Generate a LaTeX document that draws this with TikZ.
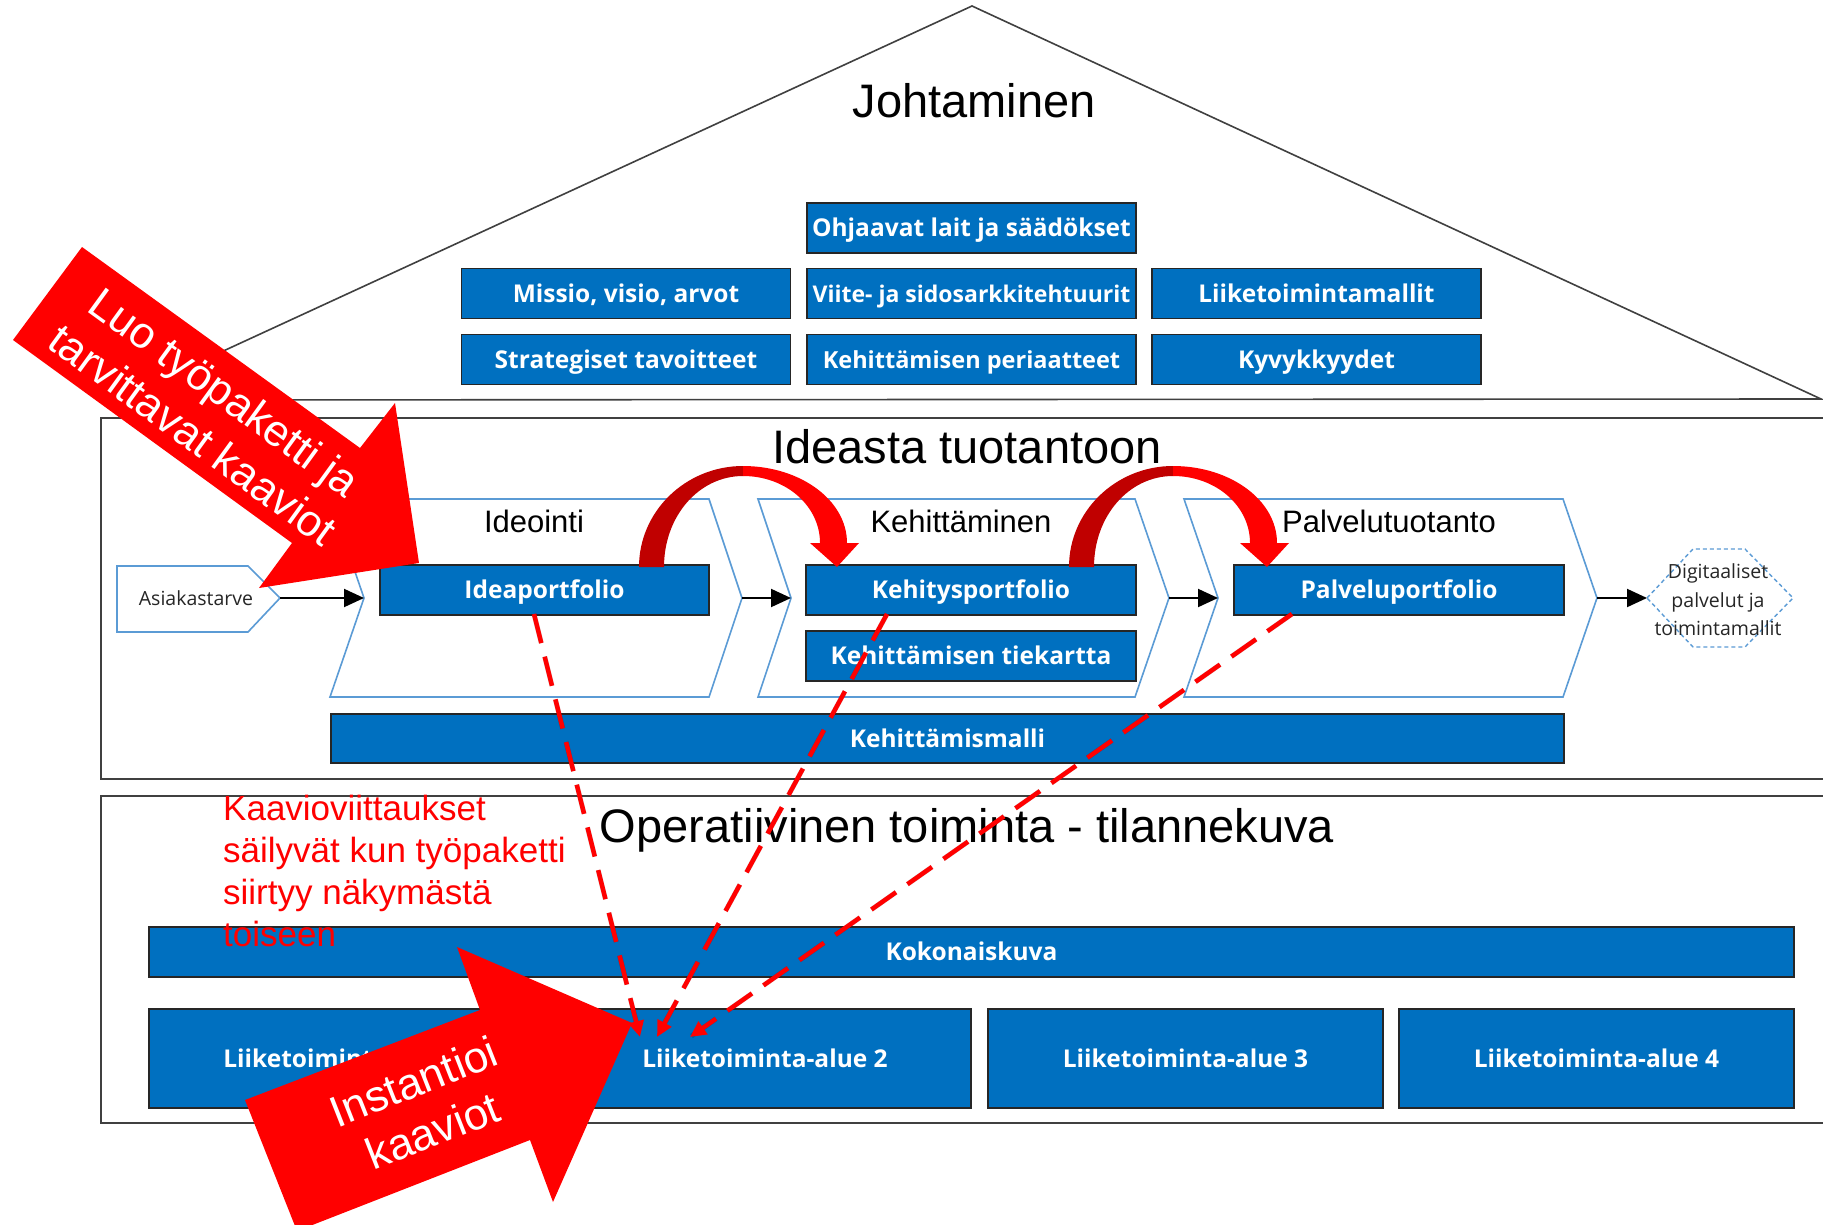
\documentclass[tikz,border=0pt]{standalone}
\usepackage{fontspec}
\setmainfont{Liberation Sans}
\newfontfamily\boxfont{Open Sans}
\usetikzlibrary{arrows.meta}
\definecolor{boxblue}{HTML}{0070C0}
\definecolor{chevblue}{HTML}{5B9BD5}
\definecolor{darkred}{HTML}{C00000}
\definecolor{brightred}{HTML}{FF0000}
\definecolor{framegray}{HTML}{404040}
\begin{document}
\begin{tikzpicture}[x=1pt,y=-1pt,
  bluebox/.style={draw=black!85, line width=1.3pt, fill=boxblue, text=white,
    font=\boxfont\bfseries\fontsize{24.5}{28}\selectfont, inner sep=0pt, minimum height=50pt,
    text height=17.5pt, text depth=0pt},
  chev/.style={draw=chevblue, line width=1.6pt, line join=miter},
  frameline/.style={draw=framegray, line width=2pt},
  rooflinestyle/.style={draw=framegray, line width=1.6pt},
  title/.style={font=\fontsize{47}{56}\selectfont, text=black, inner sep=0pt, anchor=base},
  stage/.style={font=\fontsize{31}{37}\selectfont, text=black, inner sep=0pt, anchor=base},
  smalltext/.style={font=\boxfont\fontsize{19.5}{28.5}\selectfont, text=black!85, inner sep=0pt, align=center},
  flow/.style={-{Triangle[length=20pt,width=18pt]}, line width=2pt, draw=black},
  refline/.style={draw=red, line width=4.5pt, dash pattern=on 30pt off 14pt,
    -{Triangle[length=16pt,width=15pt]}},
  refshadow/.style={draw=black, opacity=0.18, line width=5pt, dash pattern=on 30pt off 14pt},
  bigarrow/.style={fill=brightred},
  arrowtext/.style={text=white, font=\fontsize{44}{53}\selectfont, align=center, inner sep=0pt},
]
\useasboundingbox (0,0) rectangle (1823,1225);
\clip (0,0) rectangle (1823,1225);
\fill[white] (0,0) rectangle (1823,1225);

% ---------- roof: Johtaminen ----------
\draw[rooflinestyle, line join=miter] (117,400) -- (972,6) -- (1821,399) -- cycle;
\node[title] (johto) at (974,118) {Johtaminen};

\node[bluebox, minimum width=329pt] (ohj)    at (971.5,228)   {Ohjaavat lait ja säädökset};
\node[bluebox, minimum width=329pt] (missio) at (626,293.5)   {Missio, visio, arvot};
\node[bluebox, minimum width=329pt, font=\boxfont\bfseries\fontsize{23}{27}\selectfont] (viite)  at (971.5,293.5) {Viite- ja sidosarkkitehtuurit};
\node[bluebox, minimum width=329pt] (liikem) at (1316.5,293.5){Liiketoimintamallit};
\node[bluebox, minimum width=329pt] (strat)  at (626,359.5)   {Strategiset tavoitteet};
\node[bluebox, minimum width=329pt, font=\boxfont\bfseries\fontsize{23.5}{27}\selectfont] (kper)   at (971.5,359.5) {Kehittämisen periaatteet};
\node[bluebox, minimum width=329pt] (kyvyk)  at (1316.5,359.5){Kyvykkyydet};

% ---------- Ideasta tuotantoon ----------
\draw[frameline] (101,418) rectangle (1860,779);
\node[title] (ideasta) at (967,463) {Ideasta tuotantoon};

\draw[chev] (330,499) -- (709,499) -- (742,598) -- (709,697) -- (330,697) -- (364,598) -- cycle;
\draw[chev] (758,499) -- (1135,499) -- (1169,598) -- (1135,697) -- (758,697) -- (791,598) -- cycle;
\draw[chev] (1184,499) -- (1563,499) -- (1597,598) -- (1563,697) -- (1184,697) -- (1218,598) -- cycle;
\coordinate (ideoIn) at (364,598);  \coordinate (ideoOut) at (742,598);
\coordinate (kehIn) at (791,598);   \coordinate (kehOut) at (1169,598);
\coordinate (palIn) at (1218,598);  \coordinate (palOut) at (1597,598);

\node[stage] (ideointi) at (534,532) {Ideointi};
\node[stage] (kehittaminen) at (961,532) {Kehittäminen};
\node[stage] (palvelutuotanto) at (1389,532) {Palvelutuotanto};

\draw[chev] (117,566) -- (248,566) -- (280,598) -- (248,632) -- (117,632) -- cycle;
\coordinate (asiakOut) at (280,598);
\node[smalltext] (asiak) at (196,598) {Asiakastarve};

\draw[chev, dashed, dash pattern=on 4pt off 3pt, line width=1.4pt]
  (1647,598) -- (1693,549) -- (1745,549) -- (1793,598) -- (1745,647) -- (1693,647) -- cycle;
\coordinate (digiIn) at (1647,598);
\node[smalltext] (digi) at (1718,600) {Digitaaliset\\palvelut ja\\toimintamallit};

\draw[flow] (asiakOut) -- (ideoIn);
\draw[flow] (ideoOut) -- (kehIn);
\draw[flow] (kehOut) -- (palIn);
\draw[flow] (palOut) -- (digiIn);

\node[bluebox, minimum width=329pt] (ideap) at (544.5,590) {Ideaportfolio};
\node[bluebox, minimum width=330pt] (kehp)  at (971,590)   {Kehitysportfolio};
\node[bluebox, minimum width=330pt] (tiek)  at (971,656)   {Kehittämisen tiekartta};
\node[bluebox, minimum width=330pt] (palvp) at (1399,590)  {Palveluportfolio};
\node[bluebox, minimum width=1233pt, minimum height=49pt] (kmalli) at (947.5,738.5) {Kehittämismalli};

% ---------- Operatiivinen toiminta ----------
\draw[frameline] (101,796) rectangle (1860,1123);
\node[title] (oper) at (967,842) {Operatiivinen toiminta - tilannekuva};

\node[bluebox, minimum width=1645pt] (koko) at (971.5,952) {Kokonaiskuva};
\node[bluebox, minimum width=394pt, minimum height=99pt] (alue1) at (346,1058.5)  {Liiketoiminta-alue 1};
\node[bluebox, minimum width=412pt, minimum height=99pt] (alue2) at (765,1058.5) {Liiketoiminta-alue 2};
\node[bluebox, minimum width=395pt, minimum height=99pt] (alue3) at (1185.5,1058.5){Liiketoiminta-alue 3};
\node[bluebox, minimum width=395pt, minimum height=99pt] (alue4) at (1596.5,1058.5){Liiketoiminta-alue 4};

\node[anchor=north west, inner sep=0pt, align=left, text=brightred,
  font=\fontsize{35}{42}\selectfont] (kaavio) at (223,795)
  {Kaavioviittaukset\\säilyvät kun työpaketti\\siirtyy näkymästä\\toiseen};

% ---------- curved arrows ----------
\foreach \dx in {0,430} {
\begin{scope}[xshift=\dx pt]
  \fill[darkred] (639,567) .. controls (639,511) and (686,466) .. (743,466)
    -- (743,476) .. controls (699,476) and (664,516) .. (664,567) -- cycle;
  \fill[brightred] (743,466) .. controls (800,466) and (847,500) .. (847,543)
    -- (859,543) -- (837,567) -- (810,543) -- (820,543)
    .. controls (820,506) and (786,476) .. (743,476) -- cycle;
\end{scope}
}

% ---------- dashed reference lines ----------
\coordinate (refA) at (534,614);
\coordinate (refB) at (887,614);
\coordinate (refC) at (1292,614);
\coordinate (tA) at (640,1037);
\coordinate (tB) at (657,1037);
\coordinate (tC) at (690,1037);
\begin{scope}[shift={(4,3)}]
  \draw[refshadow] (refA) -- (tA);
  \draw[refshadow] (refB) -- (tB);
  \draw[refshadow] (refC) -- (tC);
\end{scope}
\draw[refline] (refA) -- (tA);
\draw[refline] (refB) -- (tB);
\draw[refline] (refC) -- (tC);

% ---------- big red arrows ----------
\fill[bigarrow] (82,247) -- (360,448) -- (395,403) -- (419,563) -- (259,588) -- (292,543) -- (13,340) -- cycle;
\node[arrowtext, rotate=-36] (luo) at (209,413) {Luo työpaketti ja\\tarvittavat kaaviot};

\fill[bigarrow] (245,1100) -- (480,1010) -- (457,947) -- (632,1023) -- (553,1202) -- (530,1140) -- (297,1231) -- cycle;
\node[arrowtext, rotate=21.5] (inst) at (423,1106) {Instantioi\\kaaviot};
\end{tikzpicture}
\end{document}
